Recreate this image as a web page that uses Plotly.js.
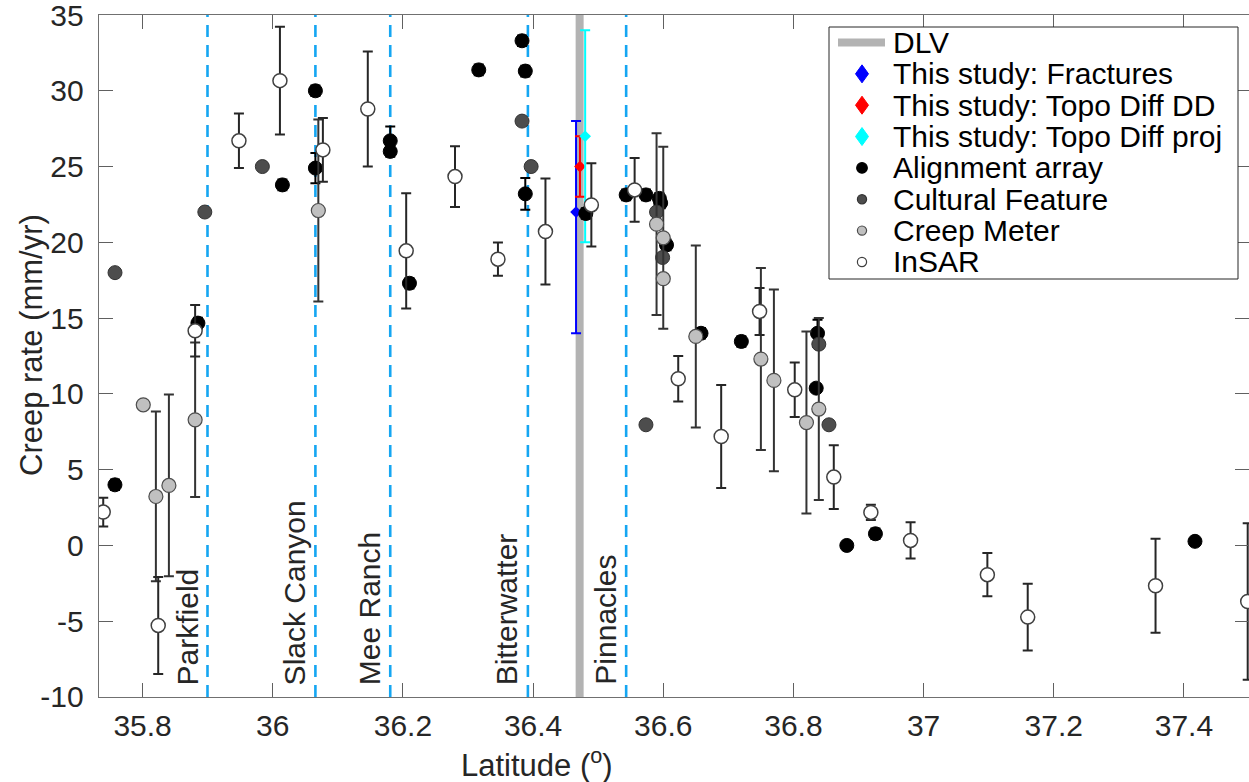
<!DOCTYPE html>
<html>
<head>
<meta charset="utf-8">
<script src="https://cdn.plot.ly/plotly-3.0.1.min.js"></script>
<style>html,body{margin:0;padding:0;background:#fff;}#chart{width:1249px;height:782px;}</style>
</head>
<body>
<div id="chart"></div>
<script>
// ---------- data ----------
const alignLat  = [35.7575, 35.885, 36.0148, 36.0655, 36.0655, 36.1805, 36.1805, 36.210, 36.3165, 36.383, 36.388, 36.388, 36.481, 36.543, 36.5734, 36.594, 36.596, 36.605, 36.658, 36.720, 36.837, 36.835, 36.882, 36.926, 37.417];
const alignRate = [4.0, 14.67, 23.79, 30.0, 24.9, 26.7, 26.0, 17.3, 31.38, 33.3, 31.3, 23.2, 21.9, 23.13, 23.13, 22.9, 22.6, 19.83, 14.0, 13.46, 14.0, 10.38, 0.0, 0.77, 0.27];
const alignErr  = [0.35, 0.35, 0.35, 0.35, 1.0, 0.95, 0.35, 0.35, 0.35, 0.35, 0.35, 1.05, 0.35, 0.35, 0.35, 0.35, 0.35, 0.35, 0.35, 0.35, 0.9, 0, 0, 0.35, 0];

const cultLat  = [35.7576, 35.8956, 35.984, 36.383, 36.397, 36.5734, 36.5897, 36.599, 36.839, 36.8546];
const cultRate = [18.0, 22.0, 25.0, 28.0, 25.0, 7.96, 22.0, 19.0, 13.28, 7.96];

const creepLat  = [35.801, 35.8204, 35.8404, 35.8807, 36.070, 36.5897, 36.600, 36.600, 36.650, 36.750, 36.770, 36.820, 36.839];
const creepRate = [9.28, 3.23, 3.96, 8.29, 22.1, 21.2, 20.3, 17.6, 13.79, 12.3, 10.89, 8.11, 9.0];
const creepErr  = [0, 5.6, 6.0, 5.1, 6.0, 6.0, 6.0, 0, 6.0, 6.0, 6.0, 6.0, 6.0];

const insarLat  = [35.7395, 35.824, 35.8807, 35.948, 36.011, 36.077, 36.146, 36.205, 36.280, 36.346, 36.419, 36.4895, 36.556, 36.623, 36.689, 36.748, 36.802, 36.862, 36.919, 36.980, 37.098, 37.160, 37.3564, 37.498];
const insarRate = [2.2, -5.28, 14.16, 26.7, 30.67, 26.1, 28.8, 19.44, 24.34, 18.89, 20.71, 22.47, 23.46, 11.0, 7.19, 15.44, 10.27, 4.51, 2.18, 0.33, -1.93, -4.73, -2.66, -3.7];
const insarErr  = [0.95, 3.2, 1.7, 1.8, 3.55, 2.1, 3.8, 3.8, 2.0, 1.1, 3.5, 2.75, 2.1, 1.5, 3.4, 1.55, 1.8, 2.1, 0.5, 1.2, 1.43, 2.2, 3.1, 5.17];

// This study
const fracLat = [36.466], fracRate = [22], fracErrPlus = [6], fracErrMinus = [8];
const ddLat = [36.472],   ddRate = [25],   ddErr = [2];
const projLat = [36.480], projRate = [27], projErr = [7];

// DLV and creeping-section boundaries
const dlvLat = 36.4715;
const regionNames = ['Parkfield', 'Slack Canyon', 'Mee Ranch', 'Bitterwatter', 'Pinnacles'];
const regionLat   = [35.8997, 36.0655, 36.1805, 36.392, 36.543];

const xTickVals = [35.8, 36, 36.2, 36.4, 36.6, 36.8, 37, 37.2, 37.4];
const xTickText = ['35.8', '36', '36.2', '36.4', '36.6', '36.8', '37', '37.2', '37.4'];
const yTickVals = [-10, -5, 0, 5, 10, 15, 20, 25, 30, 35];
const yTickText = ['-10', '-5', '0', '5', '10', '15', '20', '25', '30', '35'];
const yRange = [-10, 35];
const xRange = [35.733, 37.5];

// ---------- traces ----------
const FONT = 'Liberation Sans, Arial, Helvetica, sans-serif';
const traces = [];

regionLat.forEach(function (lat) {
  traces.push({
    x: [lat, lat], y: yRange, mode: 'lines', showlegend: false, hoverinfo: 'skip',
    line: {color: '#15a6f2', width: 2.6, dash: '12px,8px'}
  });
});

traces.push({
  x: [dlvLat, dlvLat], y: yRange, mode: 'lines', name: 'DLV',
  line: {color: '#b3b3b3', width: 8}
});

function errY(arr, color, minus) {
  const e = {type: 'data', array: arr, visible: true, color: color, thickness: 2, width: 5};
  if (minus) { e.symmetric = false; e.arrayminus = minus; }
  return e;
}

traces.push({
  x: fracLat, y: fracRate, mode: 'markers', name: 'This study: Fractures',
  marker: {symbol: 'diamond', size: 9, color: '#0000ff'},
  error_y: errY(fracErrPlus, '#0000ff', fracErrMinus)
});
traces.push({
  x: ddLat, y: ddRate, mode: 'markers', name: 'This study: Topo Diff DD',
  marker: {symbol: 'diamond', size: 9, color: '#ff0000'},
  error_y: errY(ddErr, '#ff0000')
});
traces.push({
  x: projLat, y: projRate, mode: 'markers', name: 'This study: Topo Diff proj',
  marker: {symbol: 'diamond', size: 9, color: '#00ffff'},
  error_y: errY(projErr, '#00ffff')
});
traces.push({
  x: alignLat, y: alignRate, mode: 'markers', name: 'Alignment array',
  marker: {symbol: 'circle', size: 14, color: '#000000', line: {color: '#000000', width: 1}},
  error_y: errY(alignErr, '#000000')
});
traces.push({
  x: cultLat, y: cultRate, mode: 'markers', name: 'Cultural Feature',
  marker: {symbol: 'circle', size: 14, color: '#4d4d4d', line: {color: '#333333', width: 1}}
});
traces.push({
  x: creepLat, y: creepRate, mode: 'markers', name: 'Creep Meter',
  marker: {symbol: 'circle', size: 14, color: '#c0c0c0', line: {color: '#4d4d4d', width: 1.2}},
  error_y: errY(creepErr, '#333333')
});
traces.push({
  x: insarLat, y: insarRate, mode: 'markers', name: 'InSAR',
  marker: {symbol: 'circle', size: 14, color: '#ffffff', line: {color: '#404040', width: 1.5}},
  error_y: errY(insarErr, '#262626')
});

// ---------- plot-area geometry (pixels) ----------
const PL = 99, PW = 1150, PT = 15, PH = 682;
function pxX(px) { return (px - PL) / PW; }
function pxY(py) { return (PT + PH - py) / PH; }

// ---------- annotations ----------
const annotations = regionNames.map(function (name, i) {
  return {
    x: regionLat[i], y: yRange[0], xref: 'x', yref: 'y', text: name, showarrow: false,
    textangle: -90, xanchor: 'right', yanchor: 'bottom', xshift: -2, yshift: 10,
    font: {family: FONT, size: 30, color: '#262626'}
  };
});
annotations.push({
  xref: 'paper', yref: 'paper', x: pxX(537), y: pxY(763), text: 'Latitude (<sup>o</sup>)',
  showarrow: false, xanchor: 'center', yanchor: 'middle',
  font: {family: FONT, size: 31, color: '#262626'}
});
annotations.push({
  xref: 'paper', yref: 'paper', x: pxX(31), y: pxY(345), text: 'Creep rate (mm/yr)',
  showarrow: false, xanchor: 'center', yanchor: 'middle', textangle: -90,
  font: {family: FONT, size: 31, color: '#262626'}
});

// ---------- legend (drawn as a boxed key from the named traces) ----------
const shapes = [];
const legendBox = {x0: 829, y0: 27, x1: 1238, y1: 279};
const legendRow0 = 42.5, legendRowStep = 31.35, legendSymX = 862, legendTextX = 891;
shapes.push({
  type: 'rect', xref: 'paper', yref: 'paper', layer: 'above',
  x0: pxX(legendBox.x0), x1: pxX(legendBox.x1), y0: pxY(legendBox.y1), y1: pxY(legendBox.y0),
  fillcolor: '#ffffff', line: {color: '#262626', width: 1}
});
traces.filter(function (t) { return t.name; }).forEach(function (t, i) {
  const cy = pxY(legendRow0 + i * legendRowStep);
  const cx = pxX(legendSymX);
  if (t.mode === 'lines') {
    shapes.push({type: 'line', xref: 'paper', yref: 'paper', layer: 'above',
      x0: pxX(838), x1: pxX(885), y0: cy, y1: cy, line: {color: t.line.color, width: t.line.width}});
  } else if (t.marker.symbol === 'diamond') {
    shapes.push({type: 'path', xref: 'paper', yref: 'paper', layer: 'above',
      xsizemode: 'pixel', ysizemode: 'pixel', xanchor: cx, yanchor: cy,
      path: 'M 0,9 L 6.5,0 L 0,-9 L -6.5,0 Z', fillcolor: t.marker.color, line: {color: t.marker.color, width: 1}});
  } else {
    const r = (t.name === 'Alignment array') ? 5.3 : 4.6;
    shapes.push({type: 'circle', xref: 'paper', yref: 'paper', layer: 'above',
      xsizemode: 'pixel', ysizemode: 'pixel', xanchor: cx, yanchor: cy,
      x0: -r, x1: r, y0: -r, y1: r, fillcolor: t.marker.color,
      line: {color: t.marker.line.color, width: 1.2}});
  }
  annotations.push({
    xref: 'paper', yref: 'paper', x: pxX(legendTextX), y: cy, text: t.name, showarrow: false,
    xanchor: 'left', yanchor: 'middle', font: {family: FONT, size: 30, color: '#000000'}
  });
});

const axisCommon = {
  showgrid: false, zeroline: false, showline: true, linecolor: '#707070', linewidth: 1.3,
  mirror: 'allticks', ticks: 'inside', ticklen: 14, tickwidth: 1, tickcolor: '#606060',
  ticklabeloverflow: 'allow',
  tickfont: {family: FONT, size: 30, color: '#262626'}
};

const layout = {
  width: 1249, height: 782,
  margin: {l: PL, r: 1249 - PL - PW, t: PT, b: 782 - PT - PH},
  paper_bgcolor: '#ffffff', plot_bgcolor: '#ffffff',
  font: {family: FONT, color: '#262626'},
  xaxis: Object.assign({}, axisCommon, {range: xRange, tickmode: 'array', tickvals: xTickVals, ticktext: xTickText, ticklabelstandoff: 2}),
  yaxis: Object.assign({}, axisCommon, {range: [yRange[0] - 0.001, yRange[1] + 0.001], tickmode: 'array', tickvals: yTickVals, ticktext: yTickText, ticklabelstandoff: 8}),
  showlegend: false,
  annotations: annotations,
  shapes: shapes
};

Plotly.newPlot('chart', traces, layout, {displayModeBar: false, staticPlot: true});
</script>
</body>
</html>
